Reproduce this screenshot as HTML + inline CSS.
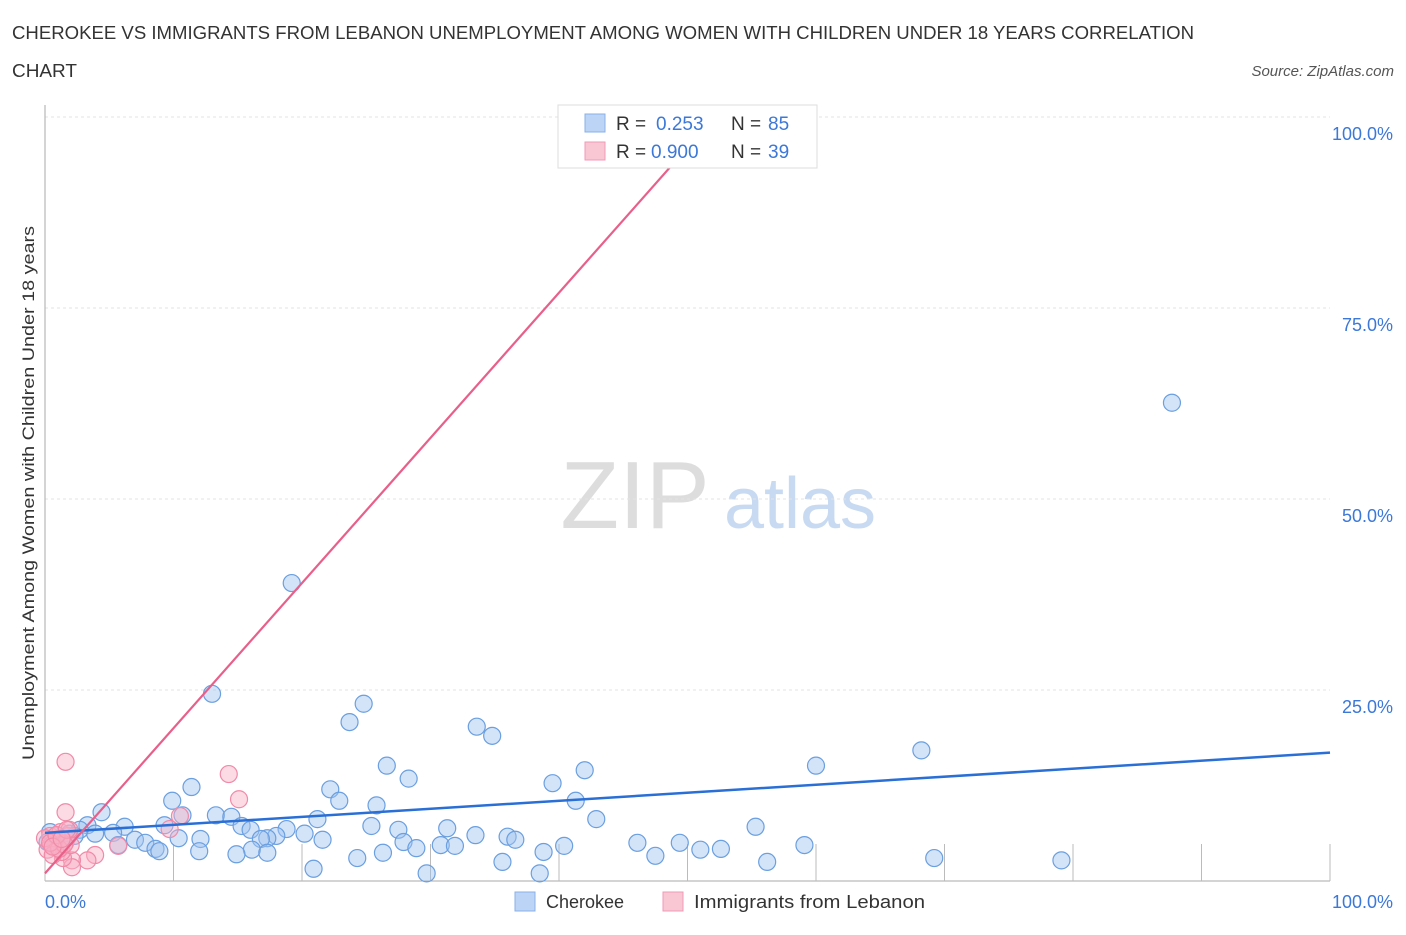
<!DOCTYPE html>
<html><head><meta charset="utf-8"><style>
body{margin:0;background:#fff;font-family:"Liberation Sans",sans-serif;}
svg text{font-family:"Liberation Sans",sans-serif;}
</style></head><body>
<svg width="1406" height="930" xmlns="http://www.w3.org/2000/svg">
<text x="12" y="39" font-size="18" fill="#333" textLength="1182" lengthAdjust="spacingAndGlyphs">CHEROKEE VS IMMIGRANTS FROM LEBANON UNEMPLOYMENT AMONG WOMEN WITH CHILDREN UNDER 18 YEARS CORRELATION</text>
<text x="12" y="77" font-size="18" fill="#333" textLength="65" lengthAdjust="spacingAndGlyphs">CHART</text>
<text x="1394" y="76" font-size="15" fill="#555" font-style="italic" text-anchor="end">Source: ZipAtlas.com</text>
<g>
<text x="635" y="528" font-size="96" fill="#ddd" font-family="Liberation Serif" text-anchor="middle">ZIP</text>
<text x="800" y="528" font-size="72" fill="#c8daf2" text-anchor="middle">atlas</text>
</g>
<g id="grid"></g>
<line x1="45" y1="105" x2="45" y2="881" stroke="#aaa"/>
<line x1="45" y1="881" x2="1330" y2="881" stroke="#aaa"/>
<g id="xticks"></g>
<text x="34" y="493" font-size="17" fill="#333" text-anchor="middle" textLength="534" lengthAdjust="spacingAndGlyphs" transform="rotate(-90 34 493)">Unemployment Among Women with Children Under 18 years</text>
<text x="45" y="908" font-size="18" fill="#3b78d8">0.0%</text>
<text x="1393" y="908" font-size="18" fill="#3b78d8" text-anchor="end">100.0%</text>
<g id="pts"></g>
<g id="lines"></g>
<g>
<rect x="558" y="105" width="259" height="63" fill="#fff" stroke="#ddd"/>
<rect x="585" y="114" width="20" height="18" fill="#bcd4f6" stroke="#8ab0e8"/>
<rect x="585" y="142" width="20" height="18" fill="#f9c6d4" stroke="#f09ab4"/>
<text x="616" y="130" font-size="19" fill="#333">R =</text>
<text x="656" y="130" font-size="19" fill="#3b78d8">0.253</text>
<text x="731" y="130" font-size="19" fill="#333">N =</text>
<text x="768" y="130" font-size="19" fill="#3b78d8">85</text>
<text x="616" y="158" font-size="19" fill="#333">R =</text>
<text x="651" y="158" font-size="19" fill="#3b78d8">0.900</text>
<text x="731" y="158" font-size="19" fill="#333">N =</text>
<text x="768" y="158" font-size="19" fill="#3b78d8">39</text>
</g>
<g>
<rect x="515" y="892" width="20" height="19" fill="#bcd4f6" stroke="#8ab0e8"/>
<text x="546" y="908" font-size="18" fill="#333">Cherokee</text>
<rect x="663" y="892" width="20" height="19" fill="#f9c6d4" stroke="#f09ab4"/>
<text x="694" y="908" font-size="18" fill="#333" textLength="231" lengthAdjust="spacingAndGlyphs">Immigrants from Lebanon</text>
</g>
</svg>
<script>
const yTicks=[25,50,75,100];
const yTickLabels=["25.0%","50.0%","75.0%","100.0%"];
const xTickVals=[0,10,20,30,40,50,60,70,80,90,100];
const blueX=[19.2,13.0,24.8,23.7,33.6,34.8,87.7,68.2,60.0,26.6,42.0,28.3,39.5,11.4,22.2,9.9,41.3,22.9,25.8,4.4,13.3,10.7,21.2,42.9,14.5,9.3,6.2,3.3,15.3,25.4,27.5,31.3,55.3,18.8,16,5.3,3.9,20.2,33.5,10.4,12.1,18,17.3,21.6,36,36.6,7,7.8,27.9,16.8,49.4,46.1,59.1,30.8,31.9,40.4,5.7,28.9,52.6,51.0,8.6,8.9,12,16.1,14.9,17.3,26.3,38.8,47.5,24.3,35.6,56.2,69.2,79.1,20.9,29.7,38.5,0.4,1.3,1.9,2.7,2.3,0.8,0.2];
const blueY=[39.0,24.5,23.2,20.8,20.2,19.0,62.6,17.1,15.1,15.1,14.5,13.4,12.8,12.3,12.0,10.5,10.5,10.5,9.9,9.0,8.6,8.6,8.1,8.1,8.4,7.3,7.1,7.3,7.2,7.2,6.7,6.9,7.1,6.8,6.7,6.3,6.2,6.2,6.0,5.6,5.5,5.9,5.6,5.4,5.8,5.4,5.4,5.0,5.1,5.5,5.0,5.0,4.7,4.7,4.6,4.6,4.7,4.3,4.2,4.1,4.2,3.9,3.9,4.1,3.5,3.7,3.7,3.8,3.3,3.0,2.5,2.5,3.0,2.7,1.6,1.0,1.0,6.4,5.6,6.2,6.7,5.9,4.7,5.1];
const pinkX=[1.6,14.3,15.1,1.6,10.5,9.7,5.7,3.9,3.3,2.1,2.1,1.4,0.4,0.8,1.2,0.5,1.0,1.6,1.8,0.2,1.3,2.0,0.6,1.9,0.0,1.1,1.5,0.4,0.9,1.7,0.6,1.3];
const pinkY=[15.6,14.0,10.7,9.0,8.5,6.8,4.6,3.4,2.7,2.7,1.8,3.0,5.9,5.4,6.4,4.7,4.3,5.1,5.9,4.1,3.8,4.7,3.4,6.7,5.6,4.2,4.8,5.0,6.0,6.7,4.5,5.5];
const blueLine=[6.3,16.8];
const pinkLine=[1.0,1.9];
const X=v=>45+v*12.85, Y=v=>881-v*7.64;
const NS="http://www.w3.org/2000/svg";
function mk(t,a,p){const e=document.createElementNS(NS,t);for(const k in a)e.setAttribute(k,a[k]);document.getElementById(p).appendChild(e);return e;}
yTicks.forEach((v,i)=>{
 const l=mk('line',{x1:45,x2:1330,y1:Y(v),y2:Y(v),stroke:'#e3e3e3','stroke-dasharray':'3,3'},'grid');
 
 
 const t=mk('text',{x:1393,y:Y(v)+23,'font-size':18,fill:'#3b78d8','text-anchor':'end'},'grid');
 t.textContent=yTickLabels[i];
 
 
});
xTickVals.forEach(v=>{
 const l=mk('line',{x1:X(v),x2:X(v),y1:844,y2:881,stroke:'#bbb'},'xticks');
 
 
});
blueX.forEach((x,i)=>{
 const c=mk('circle',{cx:X(x),cy:Y(blueY[i]),r:8.5,fill:'rgba(160,196,240,0.45)',stroke:'#6a9fe0','stroke-width':1.2},'pts');
 
 
});
pinkX.forEach((x,i)=>{
 const c=mk('circle',{cx:X(x),cy:Y(pinkY[i]),r:8.5,fill:'rgba(248,175,198,0.45)',stroke:'#f08aa8','stroke-width':1.2},'pts');
 
 
});
const bl=mk('line',{x1:X(0),y1:Y(blueLine[0]),x2:X(100),y2:Y(blueLine[1]),stroke:'#2a6fd6','stroke-width':2.5},'lines');


const xe=50.2;
const pl=mk('line',{x1:X(0),y1:Y(pinkLine[0]),x2:X(xe),y2:Y(pinkLine[0]+pinkLine[1]*xe),stroke:'#e8608a','stroke-width':2.2},'lines');


</script>
</body></html>
